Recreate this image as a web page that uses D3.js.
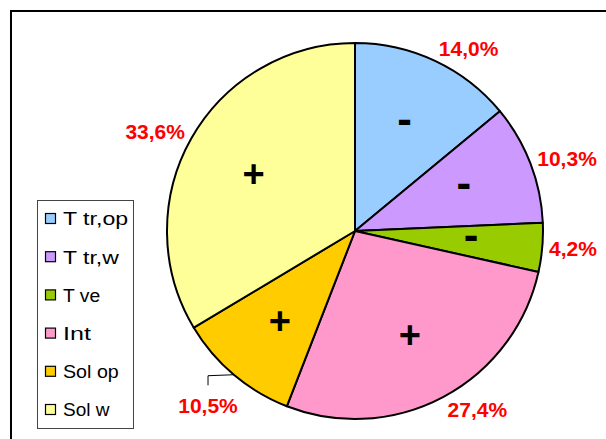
<!DOCTYPE html>
<html>
<head>
<meta charset="UTF-8">
<script src="https://d3js.org/d3.v7.min.js"></script>
<style>
  body { margin: 0; background: #fff; }
  svg { display: block; }
  text { font-family: "Liberation Sans", Arial, sans-serif; }
</style>
</head>
<body>
<script>
  // data
  const categories = ["T tr,op", "T tr,w", "T ve", "Int", "Sol op", "Sol w"];
  const shares = [14.0, 10.3, 4.2, 27.4, 10.5, 33.6];
  const signs = ["-", "-", "-", "+", "+", "+"];
  const colors = ["#99CCFF", "#CC99FF", "#99CC00", "#FF99CC", "#FFCC00", "#FFFF99"];

  const width = 606, height = 439;
  const cx = 355, cy = 231, R = 188;

  const svg = d3.select("body").append("svg")
    .attr("width", width)
    .attr("height", height);

  svg.append("rect").attr("width", width).attr("height", height).attr("fill", "#fff");

  // chart frame (runs off the right/bottom edge)
  svg.append("rect")
    .attr("x", 11).attr("y", 11)
    .attr("width", 620).attr("height", 460)
    .attr("fill", "none").attr("stroke", "#000").attr("stroke-width", 2);

  const data = categories.map((c, i) => ({ cat: c, v: shares[i], sign: signs[i], color: colors[i] }));

  const pie = d3.pie().value(d => d.v).sort(null);
  const arc = d3.arc().innerRadius(0).outerRadius(R);
  const arcs = pie(data);

  const g = svg.append("g").attr("transform", `translate(${cx},${cy})`);

  g.selectAll("path.slice")
    .data(arcs)
    .enter().append("path")
    .attr("class", "slice")
    .attr("d", arc)
    .attr("fill", d => d.data.color)
    .attr("stroke", "#000")
    .attr("stroke-width", 2)
    .attr("stroke-linejoin", "round");

  // +/- signs inside slices
  const signArc = d3.arc().innerRadius(R * 0.62).outerRadius(R * 0.62);
  g.selectAll("text.sign")
    .data(arcs)
    .enter().append("text")
    .attr("class", "sign")
    .attr("transform", d => `translate(${signArc.centroid(d)})`)
    .attr("text-anchor", "middle")
    .attr("dy", d => d.data.sign === "-" ? "0.2em" : "0.36em")
    .attr("font-size", d => d.data.sign === "-" ? 44 : 38)
    .attr("font-weight", "bold")
    .text(d => d.data.sign);

  // percentage labels, outside end
  const fmt = v => v.toFixed(1).replace(".", ",") + "%";
  const midA = d => (d.startAngle + d.endAngle) / 2;

  arcs.forEach((d, i) => {
    const a = midA(d);
    const s = Math.sin(a), c = Math.cos(a);
    let lx, ly;
    const leader = d.data.cat === "Sol op";
    if (leader) {
      const r2 = R + 40;
      lx = r2 * s; ly = -r2 * c;
      const px = R * s, py = -R * c;
      g.append("polyline")
        .attr("points", [[px, py], [lx, py + 1], [lx, ly - 20]].map(p => p.join(",")).join(" "))
        .attr("fill", "none").attr("stroke", "#000").attr("stroke-width", 1);
    } else {
      const r2 = R + 6;
      const w = fmt(d.data.v).length * 12.4, h = 16;
      lx = r2 * s + Math.sign(s) * w / 2;
      ly = -r2 * c - c * h / 2;
    }
    g.append("text")
      .attr("x", lx).attr("y", ly)
      .attr("dy", "0.36em")
      .attr("text-anchor", "middle")
      .attr("font-size", 21)
      .attr("font-weight", "bold")
      .attr("fill", "#FF0000")
      .text(fmt(d.data.v));
  });

  // legend
  const leg = svg.append("g");
  leg.append("rect")
    .attr("x", 37.5).attr("y", 200.5)
    .attr("width", 96).attr("height", 228)
    .attr("fill", "#fff").attr("stroke", "#444").attr("stroke-width", 1);

  const rowY = d3.scalePoint().domain(categories).range([219, 410]);
  const items = leg.selectAll("g.item")
    .data(data)
    .enter().append("g")
    .attr("class", "item")
    .attr("transform", d => `translate(0,${rowY(d.cat)})`);

  items.append("rect")
    .attr("x", 45.5).attr("y", -5.5)
    .attr("width", 10).attr("height", 10)
    .attr("fill", d => d.color)
    .attr("stroke", "#000").attr("stroke-width", 1.2);

  items.append("text")
    .attr("x", 63).attr("dy", "0.36em")
    .attr("font-size", 18)
    .attr("textLength", d => d.cat.length * 9.3)
    .attr("lengthAdjust", "spacingAndGlyphs")
    .text(d => d.cat);
</script>
</body>
</html>
